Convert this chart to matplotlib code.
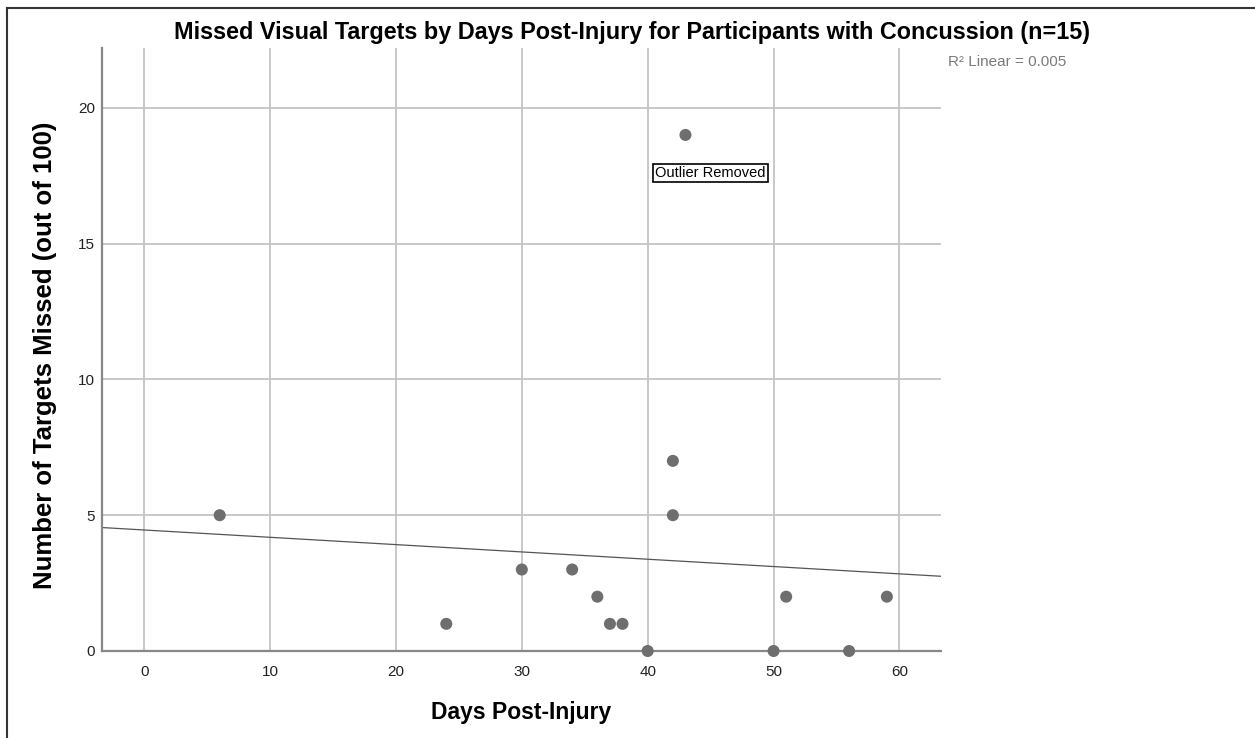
import matplotlib
matplotlib.use("Agg")
import matplotlib.pyplot as plt
import numpy as np
from matplotlib.lines import Line2D

plt.rcParams["font.family"] = ["Liberation Sans", "DejaVu Sans"]

# data (days post-injury, targets missed)
days = [6, 24, 30, 34, 36, 37, 38, 40, 42, 42, 43, 50, 51, 56, 59]
missed = [5, 1, 3, 3, 2, 1, 1, 0, 7, 5, 19, 0, 2, 0, 2]
x_ticks = [0, 10, 20, 30, 40, 50, 60]
y_ticks = [0, 5, 10, 15, 20]

W, H = 1255, 738
fig = plt.figure(figsize=(W / 100, H / 100), dpi=100)
ax = fig.add_axes([102 / W, 1 - 651 / H, (941 - 102) / W, (651 - 48) / H])

grid_c = "#c4c4c4"
for t in x_ticks:
    ax.axvline(t, color=grid_c, lw=1.3, zorder=1)
for t in y_ticks[1:]:
    ax.axhline(t, color=grid_c, lw=1.3, zorder=1)

# linear fit (includes the outlier, R^2 = 0.005)
slope, icpt = np.polyfit(days, missed, 1)
xl = np.array([-3.35, 63.3])
ax.plot(xl, icpt + slope * xl, color="#555555", lw=0.9, zorder=2)

ax.scatter(days, missed, s=75, color="#6e6e6e", edgecolors="none", zorder=3, clip_on=False)

ax.set_xlim(-3.35, 63.3)
ax.set_ylim(0, 22.2)
ax.set_xticks(x_ticks)
ax.set_yticks(y_ticks)
ax.tick_params(length=0, labelsize=11, colors="#222222")
ax.tick_params(axis="x", pad=10)
ax.tick_params(axis="y", pad=5)
for side in ("top", "right"):
    ax.spines[side].set_visible(False)
for side in ("left", "bottom"):
    ax.spines[side].set_color("#888888")
    ax.spines[side].set_linewidth(1.6)

ax.text(45, 17.6, "Outlier Removed", fontsize=10.5, ha="center", va="center",
        bbox=dict(boxstyle="square,pad=0.15", fc="white", ec="black", lw=1.2), zorder=4)

fig.text(632 / W, 1 - 33 / H, "Missed Visual Targets by Days Post-Injury for Participants with Concussion (n=15)",
         ha="center", va="center", fontsize=16.8, fontweight="bold")
fig.text(521 / W, 1 - 713 / H, "Days Post-Injury", ha="center", va="center",
         fontsize=16.5, fontweight="bold")
fig.text(45 / W, 1 - 355 / H, "Number of Targets Missed (out of 100)", ha="center", va="center",
         rotation=90, fontsize=18.5, fontweight="bold")
fig.text(948 / W, 1 - 62 / H, "R² Linear = 0.005", ha="left", va="center",
         fontsize=11, color="#7a7a7a")

# outer frame
fig.add_artist(Line2D([7 / W, 1], [1 - 8 / H, 1 - 8 / H], transform=fig.transFigure, color="#333333", lw=1.5))
fig.add_artist(Line2D([7 / W, 7 / W], [0, 1 - 8 / H], transform=fig.transFigure, color="#333333", lw=1.5))

fig.savefig("out.png", dpi=100)
